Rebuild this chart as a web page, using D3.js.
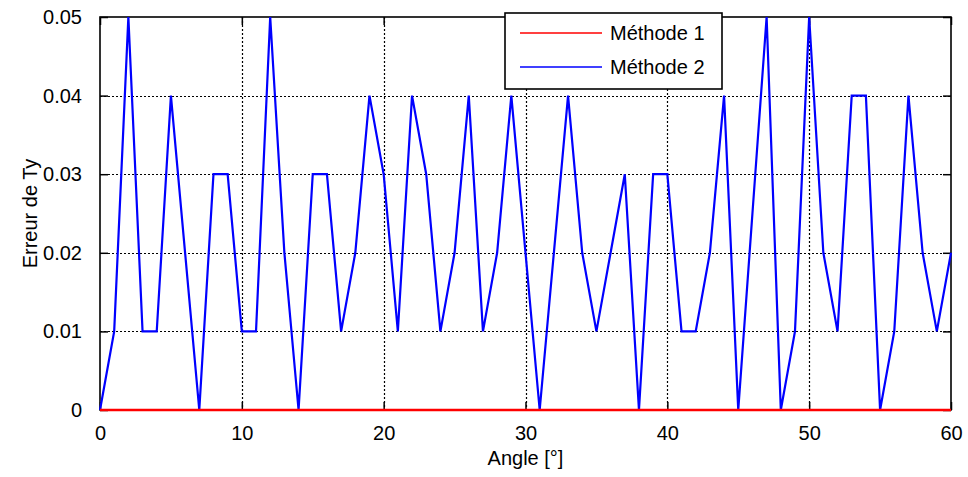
<!DOCTYPE html>
<html>
<head>
<meta charset="utf-8">
<script src="https://cdn.jsdelivr.net/npm/d3@7"></script>
<style>
  body { margin: 0; background: #fff; }
  text { font-family: "Liberation Sans", Arial, sans-serif; fill: #000; }
</style>
</head>
<body>
<svg id="chart"></svg>
<script>
// angles 0..60 deg
const angles = d3.range(0, 61);
// error of Ty, method 1 (flat at zero)
const methode1 = angles.map(() => 0);
// error of Ty, method 2
const methode2 = [0, 0.01, 0.05, 0.01, 0.01, 0.04, 0.02, 0, 0.03, 0.03,
  0.01, 0.01, 0.05, 0.02, 0, 0.03, 0.03, 0.01, 0.02, 0.04,
  0.03, 0.01, 0.04, 0.03, 0.01, 0.02, 0.04, 0.01, 0.02, 0.04,
  0.02, 0, 0.02, 0.04, 0.02, 0.01, 0.02, 0.03, 0, 0.03,
  0.03, 0.01, 0.01, 0.02, 0.04, 0, 0.025, 0.05, 0, 0.01,
  0.05, 0.02, 0.01, 0.04, 0.04, 0, 0.01, 0.04, 0.02, 0.01, 0.02];
const xTicks = [0, 10, 20, 30, 40, 50, 60];
const yTicks = [0, 0.01, 0.02, 0.03, 0.04, 0.05];
const seriesNames = ["Méthode 1", "Méthode 2"];
const seriesColors = ["#ff0000", "#0000ff"];

const config = {
  containerWidth: 968,
  containerHeight: 477,
  margin: { top: 17, bottom: 67, right: 17, left: 100 }
};

const width = config.containerWidth - config.margin.left - config.margin.right;
const height = config.containerHeight - config.margin.top - config.margin.bottom;

const svg = d3.select('#chart')
  .attr('width', config.containerWidth)
  .attr('height', config.containerHeight);

const chart = svg.append('g')
  .attr('transform', `translate(${config.margin.left},${config.margin.top})`);

const xScale = d3.scaleLinear().domain([0, 60]).range([0, width]);
const yScale = d3.scaleLinear().domain([0, 0.05]).range([height, 0]);

// dotted grid
chart.append('g').selectAll('line')
  .data(xTicks.slice(1, -1))
  .join('line')
  .attr('x1', d => Math.round(xScale(d)) + 0.5).attr('x2', d => Math.round(xScale(d)) + 0.5)
  .attr('y1', 0).attr('y2', height)
  .attr('stroke', '#000').attr('stroke-width', 1.2)
  .attr('stroke-dasharray', '2,2');
chart.append('g').selectAll('line')
  .data(yTicks.slice(1, -1))
  .join('line')
  .attr('x1', 0).attr('x2', width)
  .attr('y1', d => Math.round(yScale(d)) + 0.5).attr('y2', d => Math.round(yScale(d)) + 0.5)
  .attr('stroke', '#000').attr('stroke-width', 1.2)
  .attr('stroke-dasharray', '2,2');

// axes (ticks inside, matlab style)
const tickLen = 8;
const xAxis = d3.axisBottom(xScale).tickValues(xTicks).tickSizeInner(-tickLen).tickSizeOuter(0).tickPadding(16);
const yAxis = d3.axisLeft(yScale).tickValues(yTicks).tickSizeInner(-tickLen).tickSizeOuter(0)
  .tickPadding(18).tickFormat(d => d === 0 ? '0' : d3.format('.2f')(d));

chart.append('g')
  .attr('class', 'axis x-axis')
  .attr('transform', `translate(0,${height})`)
  .call(xAxis);
chart.append('g')
  .attr('class', 'axis y-axis')
  .call(yAxis);

chart.append('g')
  .call(d3.axisTop(xScale).tickValues(xTicks).tickSizeInner(-tickLen).tickSizeOuter(0).tickFormat(''));
chart.append('g').attr('transform', `translate(${width},0)`)
  .call(d3.axisRight(yScale).tickValues(yTicks).tickSizeInner(-tickLen).tickSizeOuter(0).tickFormat(''));

chart.selectAll('.domain').remove();
chart.selectAll('.tick line').attr('stroke', '#000').attr('stroke-width', 1.5);
chart.selectAll('.tick text').style('font-size', '20px').attr('fill', '#000');

// box
chart.append('rect')
  .attr('width', width).attr('height', height)
  .attr('fill', 'none').attr('stroke', '#000').attr('stroke-width', 1.6);

// lines
const line = d3.line()
  .x((d, i) => xScale(angles[i]))
  .y(d => yScale(d));

chart.append('path')
  .datum(methode2)
  .attr('fill', 'none')
  .attr('stroke', seriesColors[1])
  .attr('stroke-width', 2.2)
  .attr('d', line);

chart.append('path')
  .datum(methode1)
  .attr('fill', 'none')
  .attr('stroke', seriesColors[0])
  .attr('stroke-width', 2.5)
  .attr('d', line);

// axis labels
svg.append('text')
  .attr('x', config.margin.left + width / 2)
  .attr('y', 465)
  .attr('text-anchor', 'middle')
  .style('font-size', '20px')
  .text('Angle [°]');

svg.append('text')
  .attr('transform', `translate(37,${config.margin.top + height / 2}) rotate(-90)`)
  .attr('text-anchor', 'middle')
  .style('font-size', '20px')
  .text('Erreur de Ty');

// legend
const legend = svg.append('g').attr('transform', 'translate(505,13)');
legend.append('rect')
  .attr('width', 217).attr('height', 76)
  .attr('fill', '#fff').attr('stroke', '#000').attr('stroke-width', 1.6);
seriesNames.forEach((name, i) => {
  const y = 20 + i * 34;
  legend.append('line')
    .attr('x1', 15).attr('x2', 97)
    .attr('y1', y).attr('y2', y)
    .attr('stroke', seriesColors[i]).attr('stroke-width', 1.5);
  legend.append('text')
    .attr('x', 105).attr('y', y)
    .attr('dy', '0.35em')
    .style('font-size', '20px')
    .text(name);
});
</script>
</body>
</html>
